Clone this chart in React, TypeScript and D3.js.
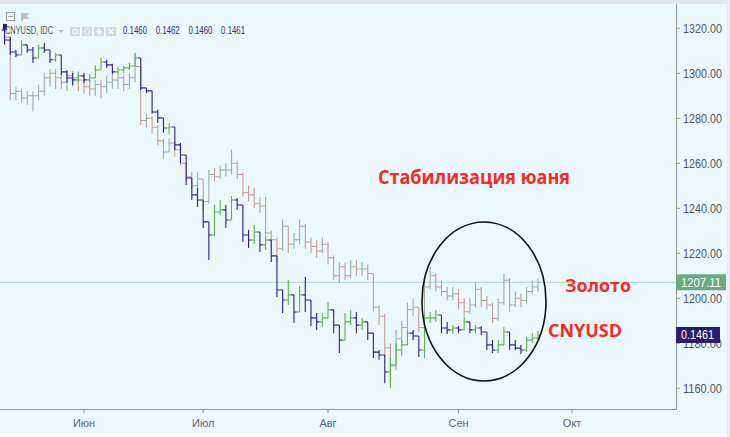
import React from "react";
import * as d3 from "d3";

const W = 730;
const H = 437;

// ---- categories / ticks ----
const monthLabels = ["Июн", "Июл", "Авг", "Сен", "Окт"];
const monthBarIndex = [14, 35, 57, 80, 100]; // bar index of first trading day of each month
const priceTicks = [1160, 1180, 1200, 1220, 1240, 1260, 1280, 1300, 1320];

// ---- Gold (overlay), daily bars, open = previous close ----
const goldFirstOpen = 1320;
const goldClose = [
  1316, 1291, 1292, 1289, 1290, 1290, 1292, 1298, 1300, 1298,
  1296, 1299, 1298, 1297, 1294, 1293, 1295, 1294, 1296, 1297,
  1298, 1295, 1298, 1303, 1279, 1280, 1276, 1270, 1265, 1269,
  1266, 1260, 1254, 1250, 1253, 1243, 1255, 1254, 1257, 1257,
  1260, 1255, 1247, 1246, 1242, 1241, 1229, 1226, 1222, 1232,
  1224, 1226, 1232, 1225, 1223, 1221, 1224, 1218, 1210, 1214,
  1210, 1214, 1213, 1213, 1211, 1196, 1192, 1178, 1170, 1182,
  1187, 1195, 1196, 1187, 1205, 1210, 1205, 1203, 1201, 1202,
  1198, 1194, 1197, 1204, 1199, 1197, 1191, 1198, 1208, 1197,
  1200, 1199, 1203, 1205, 1207.11,
];
const goldHigh = [
  1322, 1316, 1294, 1293, 1292, 1292, 1295, 1300, 1302, 1302,
  1300, 1301, 1301, 1300, 1299, 1297, 1297, 1297, 1299, 1300,
  1301, 1299, 1300, 1309, 1303, 1282, 1281, 1277, 1271, 1271,
  1270, 1267, 1260, 1256, 1256, 1253, 1257, 1258, 1259, 1260,
  1266, 1261, 1256, 1250, 1249, 1245, 1245, 1230, 1227, 1235,
  1232, 1229, 1235, 1233, 1227, 1226, 1227, 1225, 1219, 1216,
  1216, 1217, 1217, 1216, 1215, 1211, 1197, 1193, 1180, 1186,
  1190, 1198, 1200, 1196, 1209, 1214, 1211, 1208, 1205, 1205,
  1204, 1200, 1200, 1207, 1205, 1201, 1198, 1200, 1211, 1209,
  1203, 1202, 1205, 1208, 1209,
];
const goldLow = [
  1314, 1288, 1288, 1287, 1286, 1283, 1288, 1290, 1294, 1293,
  1293, 1292, 1294, 1292, 1291, 1290, 1290, 1289, 1291, 1293,
  1293, 1292, 1293, 1296, 1277, 1276, 1273, 1268, 1262, 1265,
  1263, 1259, 1252, 1248, 1249, 1239, 1242, 1252, 1253, 1254,
  1255, 1253, 1245, 1243, 1240, 1238, 1227, 1223, 1216, 1221,
  1220, 1222, 1224, 1222, 1220, 1218, 1220, 1215, 1208, 1207,
  1208, 1209, 1210, 1210, 1208, 1194, 1188, 1174, 1162, 1168,
  1180, 1186, 1192, 1185, 1186, 1204, 1203, 1201, 1199, 1199,
  1195, 1192, 1193, 1196, 1196, 1195, 1189, 1190, 1197, 1194,
  1196, 1196, 1198, 1202, 1203,
];

// ---- CNYUSD (main series), daily bars ----
const cnyFirstOpen = 0.1575;
const cnyClose = [
  0.15713, 0.15668, 0.15657, 0.15695, 0.15676, 0.15646, 0.15683, 0.15676, 0.15639, 0.15657,
  0.15594, 0.15571, 0.15564, 0.15579, 0.15564, 0.15571, 0.15601, 0.15631, 0.1562, 0.15594,
  0.15601, 0.15609, 0.15616, 0.15646, 0.15534, 0.15523, 0.15444, 0.15422, 0.15384, 0.15388,
  0.15321, 0.15283, 0.15197, 0.15134, 0.15115, 0.15033, 0.14984, 0.1507, 0.15078, 0.1504,
  0.15115, 0.15096, 0.14984, 0.14965, 0.14995, 0.14947, 0.14965, 0.14906, 0.14778, 0.14741,
  0.1476, 0.14696, 0.1476, 0.14741, 0.14674, 0.14659, 0.14674, 0.14704, 0.14647, 0.14591,
  0.14659, 0.14674, 0.14647, 0.14659, 0.14617, 0.14546, 0.14535, 0.14472, 0.14498, 0.14554,
  0.14573, 0.14617, 0.14606, 0.14554, 0.14674, 0.14674, 0.14685, 0.14636, 0.14629, 0.14636,
  0.14629, 0.14659, 0.14629, 0.14636, 0.14621, 0.14573, 0.14554, 0.14573, 0.14621, 0.14573,
  0.14561, 0.14554, 0.14591, 0.14599, 0.1461,
];
const cnyHigh = [
  0.15758, 0.15725, 0.15676, 0.15713, 0.15695, 0.15687, 0.15695, 0.15702, 0.15676, 0.15665,
  0.15646, 0.15601, 0.1559, 0.15594, 0.1559, 0.15586, 0.1562, 0.15646, 0.15639, 0.15624,
  0.15612, 0.15616, 0.15627, 0.15665, 0.15646, 0.1553, 0.15519, 0.15452, 0.15407, 0.15403,
  0.15366, 0.15328, 0.15265, 0.15179, 0.1516, 0.15085, 0.15021, 0.15096, 0.15115, 0.15096,
  0.1513, 0.15122, 0.15078, 0.15003, 0.15021, 0.1498, 0.14977, 0.14935, 0.14879, 0.14771,
  0.14816, 0.14748, 0.14793, 0.14827, 0.14741, 0.14692, 0.14692, 0.14733, 0.14692, 0.14647,
  0.14692, 0.14704, 0.14696, 0.14674, 0.14659, 0.14617, 0.14554, 0.14535, 0.14524, 0.1458,
  0.14591, 0.14629, 0.14629, 0.14606, 0.14692, 0.14696, 0.14704, 0.14674, 0.14659, 0.14647,
  0.14644, 0.14677, 0.14659, 0.14647, 0.14644, 0.14621, 0.14591, 0.14591, 0.1464, 0.14621,
  0.14591, 0.14573, 0.14603, 0.14617, 0.14625,
];
const cnyLow = [
  0.15695, 0.15657, 0.1565, 0.15657, 0.15665, 0.15627, 0.15646, 0.15665, 0.15627, 0.15631,
  0.15582, 0.15553, 0.15545, 0.15556, 0.15553, 0.15556, 0.15571, 0.15609, 0.15609, 0.15586,
  0.1559, 0.1559, 0.15601, 0.15624, 0.15526, 0.15515, 0.15437, 0.15403, 0.15366, 0.15362,
  0.15302, 0.15253, 0.15171, 0.15115, 0.15089, 0.1501, 0.1489, 0.1498, 0.15059, 0.1501,
  0.1504, 0.15078, 0.14958, 0.14935, 0.1495, 0.1492, 0.14928, 0.14883, 0.14752, 0.14692,
  0.14722, 0.14655, 0.14711, 0.14696, 0.14644, 0.14629, 0.1464, 0.14674, 0.14617, 0.14543,
  0.14591, 0.14647, 0.14617, 0.14629, 0.14591, 0.14524, 0.14517, 0.1443, 0.14412, 0.14498,
  0.14531, 0.14573, 0.14591, 0.14528, 0.14524, 0.14655, 0.14659, 0.14617, 0.14614, 0.14614,
  0.14617, 0.14636, 0.14617, 0.14617, 0.1461, 0.14554, 0.14543, 0.14543, 0.14573, 0.14554,
  0.14554, 0.14539, 0.14546, 0.1458, 0.14591,
];

const goldLast = 1207.11;
const cnyLast = 0.1461;
const legendName = "CNYUSD, IDC";
const legendValues = ["0.1460", "0.1462", "0.1460", "0.1461"];
const annTitle = "Стабилизация юаня";
const annGold = "Золото";
const annCny = "CNYUSD";

const PLOT_R = 676;
const PLOT_B = 409;

export default function App() {
  const x = d3.scaleLinear().domain([monthBarIndex[0], monthBarIndex[4]]).range([84, 572]);
  const y = d3.scaleLinear().domain([1160, 1320]).range([388.3, 28.3]);
  const yc = d3.scaleLinear().domain([0.1461, 0.15758]).range([335, 28]);
  const fmt = d3.format(".2f");
  const half = (x(1) - x(0)) / 2;

  const bars = (
    close: number[], high: number[], low: number[], first: number,
    sc: (v: number) => number, up: string, down: string, op: number
  ) =>
    close.map((c, i) => {
      const o = i === 0 ? first : close[i - 1];
      const h = Math.max(high[i], o, c);
      const l = Math.min(low[i], o, c);
      const cx = x(i);
      const col = c >= o ? up : down;
      return (
        <path
          key={i}
          d={`M${cx},${sc(h)}V${sc(l)}M${cx - half},${sc(o)}H${cx}M${cx},${sc(c)}H${cx + half}`}
          stroke={col}
          strokeWidth={1.1}
          strokeOpacity={op}
          fill="none"
        />
      );
    });

  const axisFont = "'Liberation Sans', Arial, sans-serif";
  const red = "#fc2a1c";

  return (
    <svg
      width={W}
      height={H}
      style={{ position: "absolute", left: 0, top: 0, display: "block" }}
    >
      <rect x={0} y={0} width={W} height={H} fill="#ffffff" />
      <rect x={0} y={0} width={W} height={4} fill="#e3e7ea" />
      <rect x={0} y={4} width={727} height={429} fill="#ebf8fd" />
      <rect x={727} y={0} width={3} height={H} fill="#e8ebee" />

      {/* last price line for gold */}
      <line x1={0} x2={PLOT_R} y1={y(goldLast)} y2={y(goldLast)} stroke="#a9d8d0" strokeWidth={1} />

      {/* gold overlay */}
      <g>{bars(goldClose, goldHigh, goldLow, goldFirstOpen, y, "#939d95", "#bf8a7f", 0.85)}</g>
      {/* CNYUSD main */}
      <g>{bars(cnyClose, cnyHigh, cnyLow, cnyFirstOpen, yc, "#5cb247", "#2e1f86", 1)}</g>

      {/* borders */}
      <line x1={PLOT_R + 0.5} x2={PLOT_R + 0.5} y1={4} y2={PLOT_B} stroke="#8d959c" strokeWidth={1} />
      <line x1={0} x2={PLOT_R + 1} y1={PLOT_B + 0.5} y2={PLOT_B + 0.5} stroke="#8d959c" strokeWidth={1} />

      {/* price axis */}
      {priceTicks.map((t) => (
        <g key={t}>
          <line x1={PLOT_R + 1} x2={PLOT_R + 4} y1={y(t)} y2={y(t)} stroke="#8d959c" />
          <text
            x={683}
            y={y(t) + 4.3}
            fontSize={12}
            fontFamily={axisFont}
            fill="#4f555b"
            textLength={39}
            lengthAdjust="spacingAndGlyphs"
          >
            {fmt(t)}
          </text>
        </g>
      ))}

      {/* last value boxes */}
      <rect x={PLOT_R} y={y(goldLast) - 8} width={50} height={16} fill="#6aa886" />
      <text x={681} y={y(goldLast) + 4.3} fontSize={12} fontFamily={axisFont} fill="#ffffff"
        textLength={40} lengthAdjust="spacingAndGlyphs">{goldLast.toFixed(2)}</text>
      <rect x={PLOT_R} y={yc(cnyLast) - 8} width={44} height={16} fill="#2b1c6f" />
      <text x={681} y={yc(cnyLast) + 4.3} fontSize={12} fontFamily={axisFont} fill="#ffffff"
        textLength={33} lengthAdjust="spacingAndGlyphs">{cnyLast.toFixed(4)}</text>

      {/* time axis */}
      {monthLabels.map((m, i) => (
        <g key={m}>
          <line x1={x(monthBarIndex[i])} x2={x(monthBarIndex[i])} y1={PLOT_B + 1} y2={PLOT_B + 4} stroke="#8d959c" />
          <text x={x(monthBarIndex[i])} y={427} fontSize={11} fontFamily={axisFont} fill="#61676d"
            textAnchor="middle">{m}</text>
        </g>
      ))}

      {/* legend */}
      <rect x={6.5} y={12.5} width={8} height={8} fill="none" stroke="#9aa1a7" strokeWidth={1} />
      <line x1={8} x2={13} y1={16.5} y2={16.5} stroke="#9aa1a7" />
      <path d="M21,13 H29 L27,16 L29,19 H23 V21 H21 Z" fill="#b9bec3" />
      <rect x={3} y={24} width={4} height={6} fill="#2e1f86" />
      <text x={5} y={34} fontSize={10} fontFamily={axisFont} fill="#50565c"
        textLength={48} lengthAdjust="spacingAndGlyphs">{legendName}</text>
      <path d="M58,30 L61,33 L64,30 Z" fill="#b5bbc0" />
      {[70, 82, 94, 106].map((bx, k) => (
        <g key={bx}>
          <rect x={bx} y={27} width={10} height={9} fill="#d3d9de" />
          {k === 0 && <circle cx={bx + 5} cy={31.5} r={2.5} fill="none" stroke="#fff" strokeWidth={1} />}
          {k === 1 && <circle cx={bx + 5} cy={31.5} r={2.7} fill="none" stroke="#fff" strokeWidth={1.4} strokeDasharray="1.2 0.8" />}
          {k === 2 && <path d={`M${bx + 5},${28.5}V${34.5}M${bx + 2},${31.5}H${bx + 8}`} stroke="#fff" strokeWidth={1.4} />}
          {k === 3 && <path d={`M${bx + 2.5},${29}L${bx + 7.5},${34}M${bx + 7.5},${29}L${bx + 2.5},${34}`} stroke="#fff" strokeWidth={1.2} />}
        </g>
      ))}
      {legendValues.map((v, k) => (
        <text key={k} x={123 + k * 32.7} y={34} fontSize={10} fontFamily={axisFont} fill="#2f2a78"
          textLength={24} lengthAdjust="spacingAndGlyphs">{v}</text>
      ))}

      {/* annotations */}
      <ellipse cx={484} cy={301.5} rx={62} ry={79.5} fill="none" stroke="#111" strokeWidth={1.6} />
      <text x={378} y={184} fontSize={19} fontWeight={700} fontFamily="'Open Sans', sans-serif" fill={red}
        textLength={192} lengthAdjust="spacingAndGlyphs">{annTitle}</text>
      <text x={565} y={292} fontSize={18} fontWeight={700} fontFamily="'Open Sans', sans-serif" fill={red}
        textLength={66} lengthAdjust="spacingAndGlyphs">{annGold}</text>
      <text x={548} y={337} fontSize={18} fontWeight={700} fontFamily="'Open Sans', sans-serif" fill={red}
        textLength={74} lengthAdjust="spacingAndGlyphs">{annCny}</text>
    </svg>
  );
}
